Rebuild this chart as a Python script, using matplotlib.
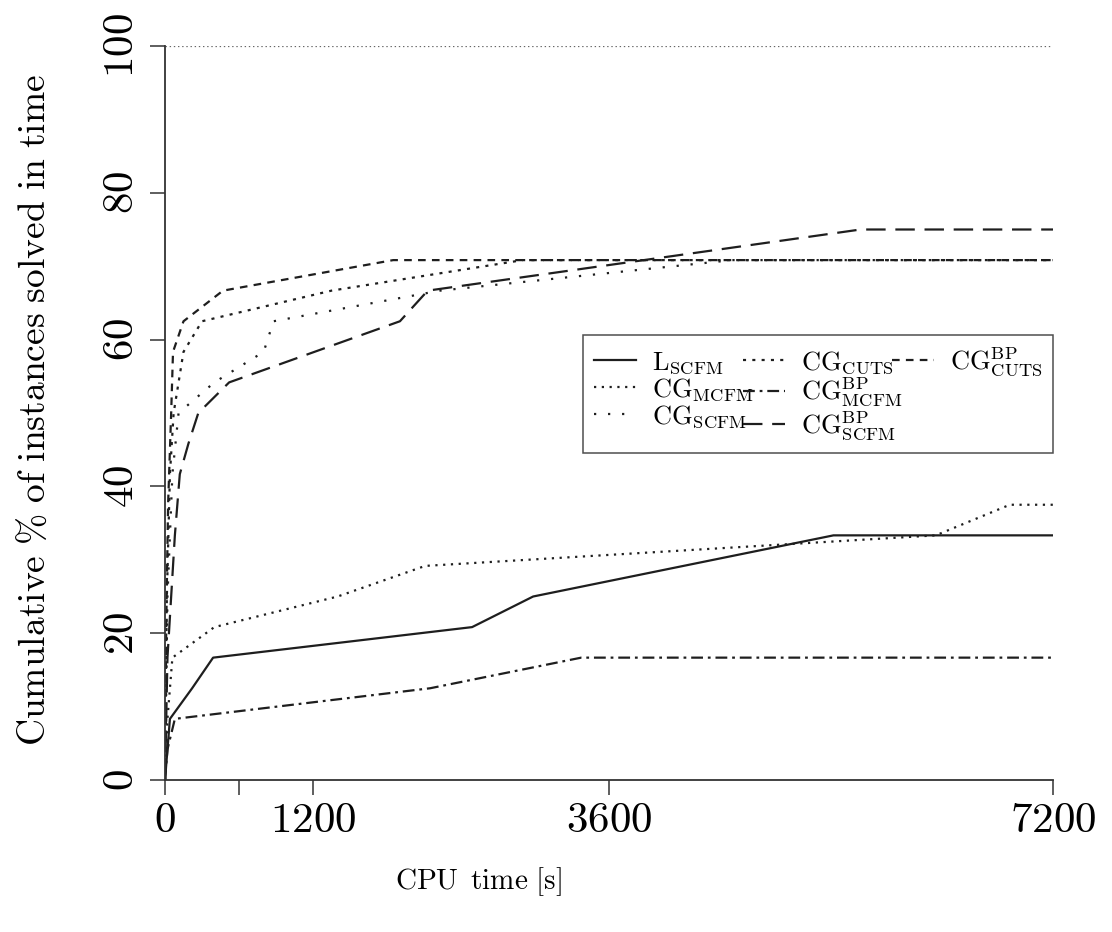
import matplotlib
matplotlib.use("Agg")
import matplotlib.pyplot as plt
from matplotlib.lines import Line2D

plt.rcParams['mathtext.fontset'] = 'cm'
plt.rcParams['font.family'] = 'serif'
plt.rcParams['lines.scale_dashes'] = False

# time [s] / cumulative % solved, one pair of lists per method
t_lscfm = [0, 40, 220, 390, 2490, 2985, 5420, 7200]
p_lscfm = [0, 8.33, 12.5, 16.67, 20.83, 25.0, 33.33, 33.33]

t_cg_mcfm = [0, 20, 60, 400, 1400, 2110, 6250, 6850, 7200]
p_cg_mcfm = [0, 8.33, 16.67, 20.83, 25.0, 29.17, 33.33, 37.5, 37.5]

t_cg_scfm = [0, 20, 60, 110, 400, 800, 880, 2230, 4600, 7200]
p_cg_scfm = [0, 25.0, 41.67, 50.0, 54.17, 58.33, 62.5, 66.67, 70.83, 70.83]

t_cg_cuts = [0, 15, 40, 70, 150, 300, 1350, 2900, 7200]
p_cg_cuts = [0, 25.0, 41.67, 50.0, 58.33, 62.5, 66.67, 70.83, 70.83]

t_bp_mcfm = [0, 20, 80, 2150, 3375, 7200]
p_bp_mcfm = [0, 4.17, 8.33, 12.5, 16.67, 16.67]

t_bp_scfm = [0, 20, 80, 120, 190, 270, 520, 1905, 2130, 5640, 7200]
p_bp_scfm = [0, 16.67, 33.33, 41.67, 45.83, 50.0, 54.17, 62.5, 66.67, 75.0, 75.0]

t_bp_cuts = [0, 10, 25, 50, 65, 150, 470, 1850, 7200]
p_bp_cuts = [0, 20.83, 37.5, 50.0, 58.33, 62.5, 66.67, 70.83, 70.83]

labels = [r'$\mathrm{L_{SCFM}}$', r'$\mathrm{CG_{MCFM}}$', r'$\mathrm{CG_{SCFM}}$',
          r'$\mathrm{CG_{CUTS}}$', r'$\mathrm{CG^{BP}_{MCFM}}$',
          r'$\mathrm{CG^{BP}_{SCFM}}$', r'$\mathrm{CG^{BP}_{CUTS}}$']

xticks = [0, 600, 1200, 3600, 7200]
xticklabels = ['$0$', '', '$1200$', '$3600$', '$7200$']
yticks = [0, 20, 40, 60, 80, 100]

W, H = 1112, 932
fig = plt.figure(figsize=(W / 100, H / 100), dpi=100)
ax = fig.add_axes([165 / W, 1 - 780 / H, (1053 - 165) / W, (780 - 46) / H])

col = '#1e1e1e'
lw = 1.6
ax.plot(t_lscfm, p_lscfm, color=col, lw=lw, ls='-', label=labels[0])
ax.plot(t_cg_mcfm, p_cg_mcfm, color=col, lw=lw, ls=(0, (1.6, 4.0)), label=labels[1])
ax.plot(t_cg_scfm, p_cg_scfm, color=col, lw=lw, ls=(0, (1.6, 8.5)), label=labels[2])
ax.plot(t_cg_cuts, p_cg_cuts, color=col, lw=lw, ls=(0, (2.2, 4.5)), label=labels[3])
ax.plot(t_bp_mcfm, p_bp_mcfm, color=col, lw=lw, ls=(0, (8.5, 3.5, 2.0, 3.5)), label=labels[4])
ax.plot(t_bp_scfm, p_bp_scfm, color=col, lw=lw, ls=(0, (14, 7)), label=labels[5])
ax.plot(t_bp_cuts, p_bp_cuts, color=col, lw=lw, ls=(0, (5.5, 4.5)), label=labels[6])

ax.axhline(100, color='#666666', lw=0.9, ls=(0, (1, 2)))

ax.set_xlim(0, 7200)
ax.set_ylim(0, 100)
for s in ['top', 'right']:
    ax.spines[s].set_visible(False)
for s in ['left', 'bottom']:
    ax.spines[s].set_color('#333333')
    ax.spines[s].set_linewidth(1.3)

ax.set_xticks(xticks)
ax.set_xticklabels(xticklabels)
ax.set_yticks(yticks)
ax.set_yticklabels(['$%d$' % v for v in yticks], rotation=90, va='center')
ax.tick_params(axis='both', direction='out', length=10.8, width=1.1,
               color='#333333', labelsize=31)
ax.tick_params(axis='x', pad=3)
ax.tick_params(axis='y', pad=6)

fig.text(478 / W, 1 - 882 / H, r'$\mathrm{CPU\ \,time\ [s]}$', fontsize=21,
         ha='center', va='center')
fig.text(35 / W, 1 - 410 / H, r'$\mathrm{Cumulative\ \%\ of\ instances\ solved\ in\ time}$',
         fontsize=27, rotation=90, ha='center', va='center')

# two empty slots so the columns fill 3 / 3 / 1 like the original
handles, labs = ax.get_legend_handles_labels()
blank = Line2D([], [], alpha=0)
handles += [blank, blank]
labs += ['', '']
leg = ax.legend(handles, labs, ncol=3, loc='center', mode='expand',
                bbox_to_anchor=(583 / W, 1 - 450 / H, 470 / W, 112 / H),
                bbox_transform=fig.transFigure, borderaxespad=0,
                fontsize=19, handlelength=1.6, handletextpad=0.6,
                columnspacing=0.5, labelspacing=0.0, fancybox=False,
                frameon=True, edgecolor='#222222', borderpad=0.4)
leg.get_frame().set_linewidth(1.1)

fig.savefig('out.png', dpi=100)
